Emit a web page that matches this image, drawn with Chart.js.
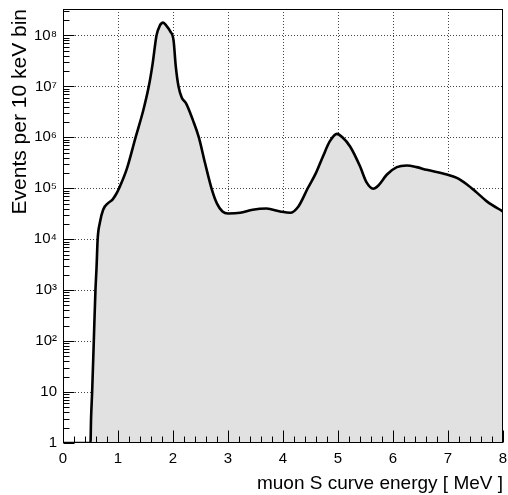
<!DOCTYPE html>
<html><head><meta charset="utf-8">
<script src="https://cdn.jsdelivr.net/npm/chart.js@4/dist/chart.umd.min.js"></script>
<style>html,body{margin:0;padding:0;background:#fff}#wrap{width:508px;height:495px}</style>
</head><body><div id="wrap"><canvas id="c" width="508" height="495"></canvas></div>
<script>
// muon S curve energy [MeV]
const energies = [0, 0.50, 0.51, 0.53, 0.56, 0.59, 0.61, 0.63, 0.67, 0.73, 0.82, 0.90, 0.97, 1.02, 1.16, 1.32, 1.46, 1.56, 1.63, 1.70, 1.76, 1.82, 1.88, 1.95, 2.01, 2.05, 2.10, 2.16, 2.24, 2.36, 2.47, 2.58, 2.70, 2.80, 2.90, 3.00, 3.22, 3.45, 3.70, 3.95, 4.13, 4.28, 4.45, 4.60, 4.73, 4.85, 4.98, 5.08, 5.22, 5.40, 5.52, 5.64, 5.73, 5.89, 6.07, 6.25, 6.43, 6.61, 6.98, 7.16, 7.34, 7.52, 7.70, 7.98, 8.00];
// events per 10 keV bin
const counts = [1, 1, 3, 10, 100, 1000, 2800, 1.0e4, 2.1e4, 3.8e4, 5.1e4, 6.0e4, 7.8e4, 1.0e5, 2.4e5, 1.0e6, 3.4e6, 1.0e7, 2.8e7, 1.0e8, 1.55e8, 1.78e8, 1.55e8, 1.2e8, 8.0e7, 2.5e7, 1.0e7, 6.0e6, 4.6e6, 2.2e6, 1.0e6, 3.2e5, 1.0e5, 5.0e4, 3.5e4, 3.2e4, 3.3e4, 3.8e4, 4.0e4, 3.5e4, 3.3e4, 4.4e4, 1.0e5, 2.0e5, 4.3e5, 8.3e5, 1.17e6, 1.0e6, 6.6e5, 2.7e5, 1.3e5, 9.8e4, 1.12e5, 1.86e5, 2.6e5, 2.8e5, 2.6e5, 2.3e5, 1.86e5, 1.6e5, 1.2e5, 8.3e4, 5.6e4, 3.6e4, 3.5e4];
const xTicks = [0, 1, 2, 3, 4, 5, 6, 7, 8];
const yTicks = [1, 10, 100, 1e3, 1e4, 1e5, 1e6, 1e7, 1e8];
const yTickLabels = ["1", "10", "10\u00B2", "10\u00B3", "10\u2074", "10\u2075", "10\u2076", "10\u2077", "10\u2078"];
const xTitle = "muon S curve energy [ MeV ]";
const yTitle = "Events per 10 keV bin";

const FONT = "'Liberation Sans', Arial, Helvetica, sans-serif";

function noPad(s) { s.paddingTop = 0; s.paddingBottom = 0; s.paddingLeft = 0; s.paddingRight = 0; }

const rootFrame = {
  id: 'rootFrame',
  beforeDatasetsDraw(chart) {
    const {ctx, chartArea: a, scales: {x, y}} = chart;
    ctx.save();
    ctx.strokeStyle = '#444';
    ctx.lineWidth = 1;
    ctx.setLineDash([1, 2]);
    xTicks.forEach(v => {
      if (v === x.min || v === x.max) return;
      const px = Math.round(x.getPixelForValue(v)) + 0.5;
      ctx.beginPath(); ctx.moveTo(px, a.top); ctx.lineTo(px, a.bottom); ctx.stroke();
    });
    yTicks.forEach(v => {
      if (v <= y.min) return;
      const py = Math.round(y.getPixelForValue(v)) + 0.5;
      ctx.beginPath(); ctx.moveTo(a.left, py); ctx.lineTo(a.right, py); ctx.stroke();
    });
    ctx.restore();
  },
  afterDatasetsDraw(chart) {
    const {ctx, chartArea: a, scales: {x, y}} = chart;
    ctx.save();
    ctx.strokeStyle = '#000';
    ctx.lineWidth = 1;
    ctx.setLineDash([]);
    ctx.strokeRect(Math.round(a.left) + 0.5, Math.round(a.top) + 0.5, Math.round(a.right - a.left) - 1, Math.round(a.bottom - a.top) - 1);
    const yb = Math.round(a.bottom) - 0.5;
    for (let i = 0; i <= 40; i++) {
      const v = i * 0.2;
      const major = i % 5 === 0;
      const px = Math.round(x.getPixelForValue(v)) + 0.5;
      ctx.beginPath(); ctx.moveTo(px, yb); ctx.lineTo(px, yb - (major ? 12 : 6)); ctx.stroke();
    }
    const xl = Math.round(a.left) + 0.5;
    for (let d = 0; d <= 8; d++) {
      for (let k = 1; k <= 9; k++) {
        const v = k * Math.pow(10, d);
        if (v > y.max) break;
        const py = Math.round(y.getPixelForValue(v)) + 0.5;
        ctx.beginPath(); ctx.moveTo(xl, py); ctx.lineTo(xl + (k === 1 ? 11 : 6), py); ctx.stroke();
      }
    }
    ctx.restore();
  }
};

new Chart(document.getElementById('c'), {
  type: 'line',
  data: {
    datasets: [{
      data: energies.map((e, i) => ({x: e, y: counts[i]})),
      borderColor: '#000',
      borderWidth: 2.6,
      backgroundColor: '#e1e1e1',
      fill: 'start',
      pointRadius: 0,
      cubicInterpolationMode: 'monotone'
    }]
  },
  options: {
    responsive: false,
    animation: false,
    devicePixelRatio: 1,
    layout: {padding: {top: 9, right: 5, left: 0, bottom: 0}},
    plugins: {legend: {display: false}, tooltip: {enabled: false}},
    scales: {
      x: {
        type: 'linear', min: 0, max: 8,
        afterBuildTicks: s => { s.ticks = xTicks.map(v => ({value: v})); },
        afterFit: s => { s.height = 52; noPad(s); },
        grid: {display: false, drawTicks: false},
        border: {display: false},
        ticks: {autoSkip: false, maxRotation: 0, padding: 7, color: '#000', font: {family: FONT, size: 15}},
        title: {display: true, text: xTitle, align: 'end', color: '#000', font: {family: FONT, size: 19}, padding: {top: 0, bottom: 0}}
      },
      y: {
        type: 'logarithmic', min: 1, max: 3.3e8,
        afterBuildTicks: s => { s.ticks = yTicks.map(v => ({value: v})); },
        afterFit: s => { s.width = 63; noPad(s); },
        grid: {display: false, drawTicks: false},
        border: {display: false},
        ticks: {autoSkip: false, padding: 6, color: '#000', font: {family: FONT, size: 15},
          callback: (v, i) => yTickLabels[i]},
        title: {display: true, text: yTitle, align: 'end', color: '#000', font: {family: FONT, size: 21}, padding: {top: 8, bottom: 0}}
      }
    }
  },
  plugins: [rootFrame]
});
</script>
</body></html>
